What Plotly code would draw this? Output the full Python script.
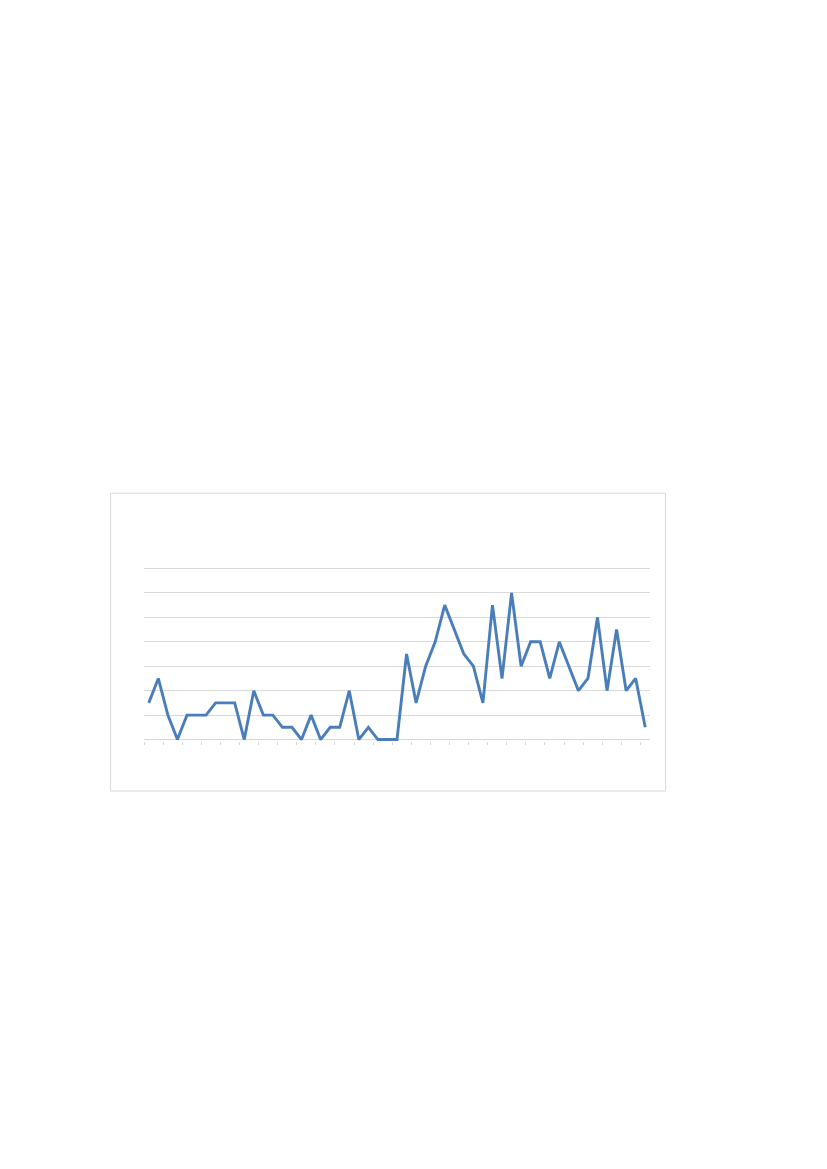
import plotly.graph_objects as go

values = [1.5, 2.5, 1, 0, 1, 1, 1, 1.5, 1.5, 1.5,
          0, 2, 1, 1, 0.5, 0.5, 0, 1, 0, 0.5,
          0.5, 2, 0, 0.5, 0, 0, 0, 3.5, 1.5, 3,
          4, 5.5, 4.5, 3.5, 3, 1.5, 5.5, 2.5, 6, 3,
          4, 4, 2.5, 4, 3, 2, 2.5, 5, 2, 4.5,
          2, 2.5, 0.5]
categories = list(range(1, len(values) + 1))

W, H = 827, 1169
OFF = 8  # page body margin
Y_MIN, Y_MAX, PAD = 0, 7, 0.06
# reference pixel positions
L, R = 143.7 - OFF, 650.0 - OFF
y_top, y_bot = 568.3 - OFF, 739.5 - OFF
unit = (y_bot - y_top) / (Y_MAX - Y_MIN)
T, B = y_top - PAD * unit, y_bot + PAD * unit
box = (110.3 - OFF, 493.0 - OFF, 665.5 - OFF, 791.0 - OFF)

fig = go.Figure()
fig.add_trace(go.Scatter(
    x=categories, y=values, mode="lines",
    line=dict(color="#4a7ebb", width=2.9),
    hoverinfo="skip", showlegend=False,
))

pw, ph = R - L, B - T
def px2x(p):
    return (p - L) / pw
def py2y(p):
    return (B - p) / ph

fig.add_shape(type="rect", xref="paper", yref="paper",
              x0=px2x(box[0]), x1=px2x(box[2]),
              y0=py2y(box[3]), y1=py2y(box[1]),
              line=dict(color="#d9d9d9", width=1), fillcolor="rgba(0,0,0,0)",
              layer="below")

fig.update_layout(
    width=W, height=H,
    margin=dict(l=L, r=W - R, t=T, b=H - B, pad=0),
    paper_bgcolor="white", plot_bgcolor="white",
    xaxis=dict(range=[0.5, len(values) + 0.5], showgrid=False, zeroline=False,
               showline=False,
               ticks="outside", ticklen=3, tickcolor="#d9d9d9", tickwidth=1,
               tickvals=[c - 0.5 for c in categories[::2]],
               showticklabels=False, fixedrange=True),
    yaxis=dict(range=[Y_MIN - PAD, Y_MAX + PAD], tick0=0, dtick=1, showgrid=True,
               gridcolor="#d9d9d9", gridwidth=1,
               zeroline=True, zerolinecolor="#d9d9d9", zerolinewidth=1,
               showline=False, showticklabels=False, ticks="", fixedrange=True),
)

fig.write_html("out.html", config={"displayModeBar": False})
